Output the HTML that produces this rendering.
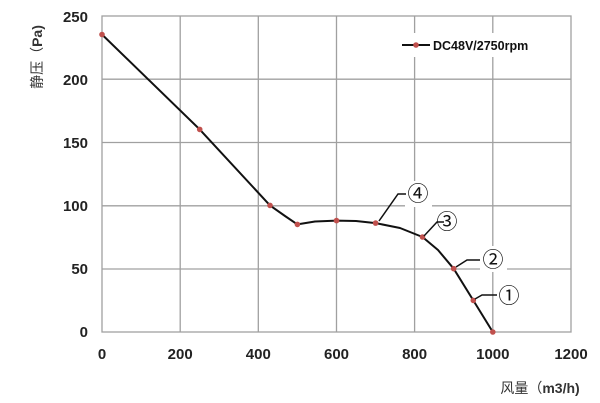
<!DOCTYPE html>
<html><head><meta charset="utf-8"><style>body{margin:0;background:#fff}svg{display:block}</style></head><body>
<svg width="600" height="403" xmlns="http://www.w3.org/2000/svg" font-family="Liberation Sans, Noto Sans CJK SC, sans-serif">
<g stroke="#a0a0a0" stroke-width="1.3" fill="none">
<rect x="102" y="16" width="469" height="316"/>
<line x1="180.2" y1="16" x2="180.2" y2="332"/><line x1="258.3" y1="16" x2="258.3" y2="332"/><line x1="336.5" y1="16" x2="336.5" y2="332"/><line x1="414.6" y1="16" x2="414.6" y2="332"/><line x1="492.8" y1="16" x2="492.8" y2="332"/>
<line x1="102" y1="79.2" x2="571" y2="79.2"/><line x1="102" y1="142.5" x2="571" y2="142.5"/><line x1="102" y1="205.8" x2="571" y2="205.8"/><line x1="102" y1="269" x2="571" y2="269"/>
</g>
<rect x="398" y="33" width="165" height="24" fill="#fff"/>
<g fill="#fff"><rect x="405" y="181" width="27" height="26"/><rect x="434" y="210" width="27" height="24"/><rect x="480" y="246" width="27" height="26"/><rect x="496" y="282" width="27" height="26"/></g>
<polyline fill="none" stroke="#111" stroke-width="2" stroke-linejoin="round" points="102,34.5 199.7,129.4 270,205.4 285,216 297.4,224.4 315,221.5 336.5,220.6 356,221 375.6,223.1 400,228 422.5,237 438,250 453.7,268.7 473.3,300.4 492.8,332"/>
<g fill="#c0504d"><circle cx="102" cy="34.5" r="2.8"/><circle cx="199.7" cy="129.4" r="2.8"/><circle cx="270" cy="205.4" r="2.8"/><circle cx="297.4" cy="224.4" r="2.8"/><circle cx="336.5" cy="220.6" r="2.8"/><circle cx="375.6" cy="223.1" r="2.8"/><circle cx="422.5" cy="237" r="2.8"/><circle cx="453.7" cy="268.7" r="2.8"/><circle cx="473.3" cy="300.4" r="2.8"/><circle cx="492.8" cy="332" r="2.8"/></g>
<g fill="none" stroke="#111" stroke-width="1.5">
<polyline points="379,221 398,194 406,194"/><polyline points="424,236 437,222 444,222"/><polyline points="456,267 467,260 480,260"/><polyline points="475,299 482,295 497,295"/>
</g>
<g font-size="21" fill="#111" text-anchor="middle" font-family="Noto Sans CJK SC, sans-serif"><text x="418" y="201">④</text><text x="447" y="229">③</text><text x="493" y="267">②</text><text x="509" y="303">①</text></g>
<line x1="402" y1="45" x2="430" y2="45" stroke="#111" stroke-width="2"/><circle cx="416" cy="45" r="2.8" fill="#c0504d"/>
<text x="433" y="50" font-size="12.5" font-weight="bold" fill="#111">DC48V/2750rpm</text>
<g font-size="15" font-weight="bold" fill="#222" text-anchor="end">
<text x="88" y="22">250</text><text x="88" y="85">200</text><text x="88" y="148">150</text><text x="88" y="211">100</text><text x="88" y="274">50</text><text x="88" y="337">0</text></g>
<g font-size="15" font-weight="bold" fill="#222" text-anchor="middle">
<text x="102" y="359">0</text><text x="180.2" y="359">200</text><text x="258.3" y="359">400</text><text x="336.5" y="359">600</text><text x="414.6" y="359">800</text><text x="492.8" y="359">1000</text><text x="571" y="359">1200</text></g>
<text x="540" y="393" font-size="14" fill="#333" text-anchor="middle">风量（<tspan font-weight="bold">m3/h)</tspan></text>
<text transform="translate(42,57) rotate(-90)" font-size="14" fill="#333" text-anchor="middle">静压（<tspan font-weight="bold">Pa)</tspan></text>
</svg>
</body></html>
